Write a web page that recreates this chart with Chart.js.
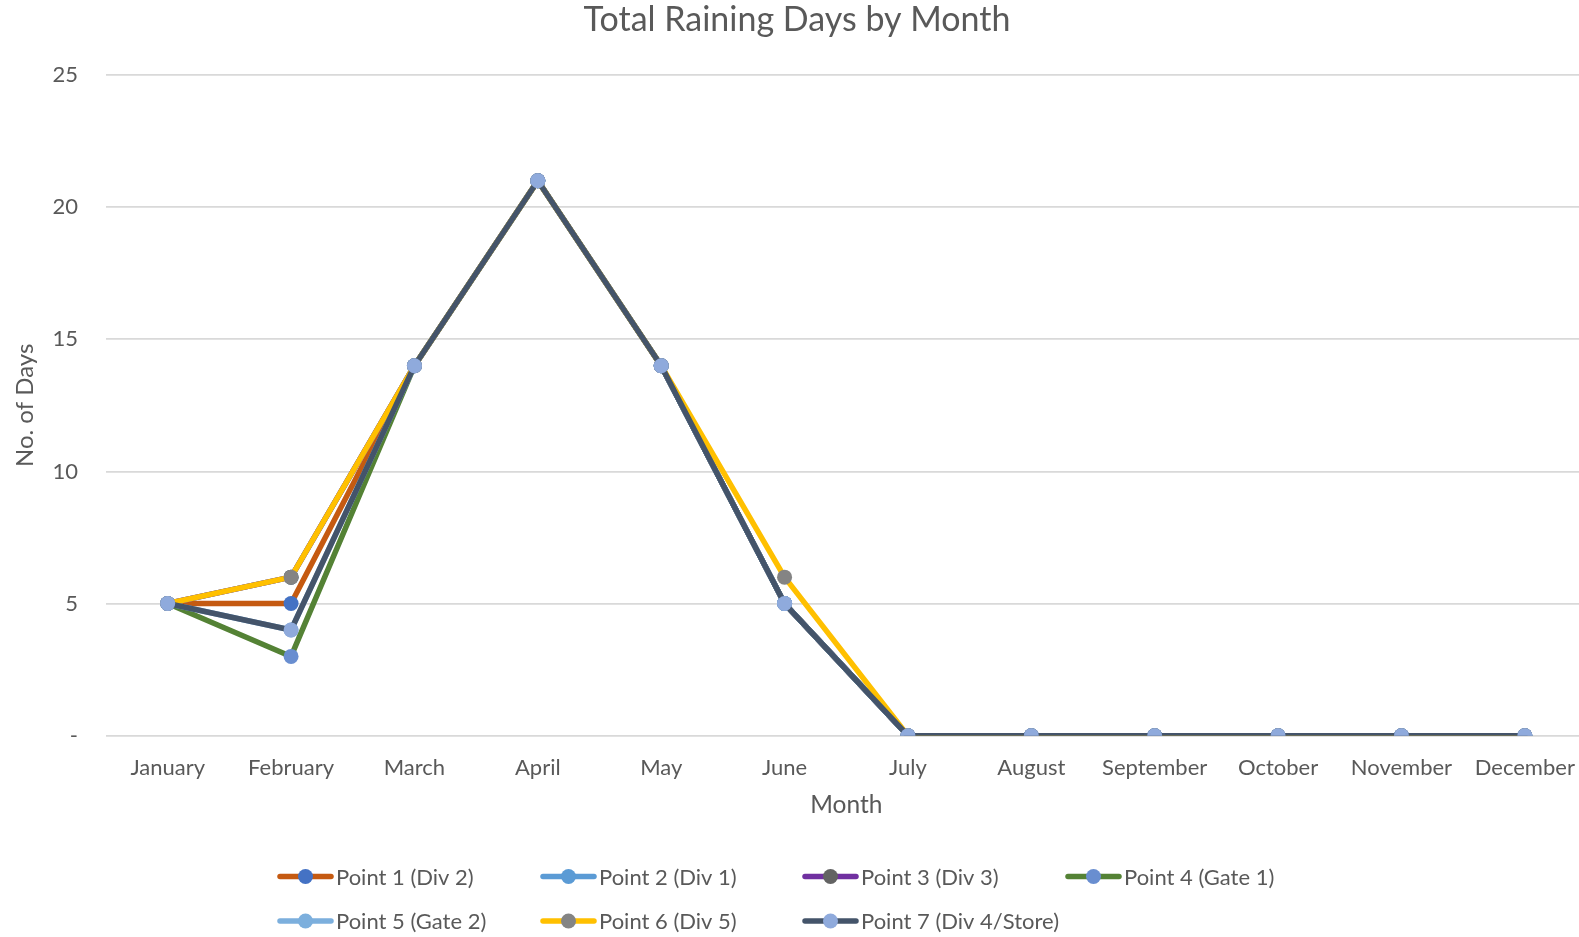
<!DOCTYPE html>
<html>
<head>
<meta charset="utf-8">
<script src="https://cdn.jsdelivr.net/npm/chart.js@4/dist/chart.umd.min.js"></script>
<style>
  html, body { margin: 0; padding: 0; background: #fff; overflow: hidden; }
  #wrap { width: 1579px; height: 937px; overflow: hidden; }
  canvas { display: block; }
</style>
</head>
<body>
<div id="wrap"><canvas id="chart" width="1594" height="937"></canvas></div>
<script>
const months = ['January', 'February', 'March', 'April', 'May', 'June', 'July',
  'August', 'September', 'October', 'November', 'December'];

const seriesNames = ['Point 1 (Div 2)', 'Point 2 (Div 1)', 'Point 3 (Div 3)', 'Point 4 (Gate 1)',
  'Point 5 (Gate 2)', 'Point 6 (Div 5)', 'Point 7 (Div 4/Store)'];

const point1 = [5, 5, 14, 21, 14, 5, 0, 0, 0, 0, 0, 0];
const point2 = [5, 6, 14, 21, 14, 5, 0, 0, 0, 0, 0, 0];
const point3 = [5, 6, 14, 21, 14, 5, 0, 0, 0, 0, 0, 0];
const point4 = [5, 3, 14, 21, 14, 5, 0, 0, 0, 0, 0, 0];
const point5 = [5, 4, 14, 21, 14, 5, 0, 0, 0, 0, 0, 0];
const point6 = [5, 6, 14, 21, 14, 6, 0, 0, 0, 0, 0, 0];
const point7 = [5, 4, 14, 21, 14, 5, 0, 0, 0, 0, 0, 0];

const yTicks = [0, 5, 10, 15, 20, 25];

const lineColors = ['#C55A11', '#5B9BD5', '#7030A0', '#548235', '#7CAFDD', '#FFC000', '#44546A'];
const markerColors = ['#4472C4', '#5B9BD5', '#636363', '#698ED0', '#7CAFDD', '#848484', '#8FAADC'];

const FONT = 'Lato, "Open Sans", sans-serif';
const TEXT = '#595959';

const allSeries = [point1, point2, point3, point4, point5, point6, point7];

const datasets = allSeries.map((vals, i) => ({
  label: seriesNames[i],
  data: vals,
  borderColor: lineColors[i],
  backgroundColor: markerColors[i],
  pointBackgroundColor: markerColors[i],
  pointBorderWidth: 0,
  pointRadius: 7.5,
  pointHoverRadius: 7.5,
  borderWidth: 5.5,
  borderCapStyle: 'round',
  borderJoinStyle: 'round',
  tension: 0,
  order: allSeries.length - i, // later series drawn on top, like Excel
}));

// legend in fixed columns, 4 on first row, 3 on the second
const gridLegend = {
  id: 'gridLegend',
  afterDraw(chart, args, opts) {
    const ctx = chart.ctx;
    ctx.save();
    ctx.font = `22px ${FONT}`;
    ctx.textBaseline = 'middle';
    ctx.textAlign = 'left';
    chart.data.datasets.forEach((ds, i) => {
      const x = opts.cols[i % 4];
      const y = opts.rows[Math.floor(i / 4)];
      ctx.strokeStyle = ds.borderColor;
      ctx.lineWidth = 5.5;
      ctx.lineCap = 'round';
      ctx.beginPath();
      ctx.moveTo(x + 2, y);
      ctx.lineTo(x + 53, y);
      ctx.stroke();
      ctx.fillStyle = ds.pointBackgroundColor;
      ctx.beginPath();
      ctx.arc(x + 27.5, y, 7.5, 0, Math.PI * 2);
      ctx.fill();
      ctx.fillStyle = TEXT;
      ctx.fillText(ds.label, x + 58, y + 1);
    });
    ctx.restore();
  }
};

new Chart(document.getElementById('chart'), {
  type: 'line',
  data: { labels: months, datasets },
  plugins: [gridLegend],
  options: {
    responsive: false,
    animation: false,
    devicePixelRatio: 1,
    layout: { padding: { left: 0, right: 0, top: 0, bottom: 101.3 } },
    plugins: {
      legend: { display: false },
      tooltip: { enabled: false },
      title: {
        display: true,
        text: 'Total Raining Days by Month',
        color: TEXT,
        font: { family: FONT, size: 34, weight: 'normal' },
        padding: { top: 0, bottom: 34.2 },
      },
      gridLegend: { cols: [278, 541, 803, 1066], rows: [876.5, 921] },
    },
    scales: {
      x: {
        type: 'category',
        offset: true,
        // invisible tick marks give the label gap
        grid: { display: true, drawOnChartArea: false, drawTicks: true, tickLength: 19, color: 'rgba(0,0,0,0)' },
        border: { display: false },
        ticks: {
          color: TEXT,
          font: { family: FONT, size: 22 },
          padding: 0,
          maxRotation: 0,
          autoSkip: false,
        },
        title: {
          display: true,
          text: 'Month',
          color: TEXT,
          font: { family: FONT, size: 24.5 },
          padding: { top: 0, bottom: 16 },
        },
        afterFit(s) { s.height = 100; },
      },
      y: {
        min: 0,
        max: 25,
        afterBuildTicks(s) { s.ticks = yTicks.map(v => ({ value: v })); },
        grid: { color: '#D9D9D9', lineWidth: 1.8, drawTicks: false },
        border: { display: false },
        ticks: {
          color: TEXT,
          font: { family: FONT, size: 22 },
          padding: 28,
          callback: v => (v === 0 ? '-' : v),
        },
        title: {
          display: true,
          text: 'No. of Days',
          color: TEXT,
          font: { family: FONT, size: 24 },
          padding: { top: 10.6, bottom: 0 },
        },
        afterFit(s) { s.width = 106; },
      },
    },
  },
});
</script>
</body>
</html>
